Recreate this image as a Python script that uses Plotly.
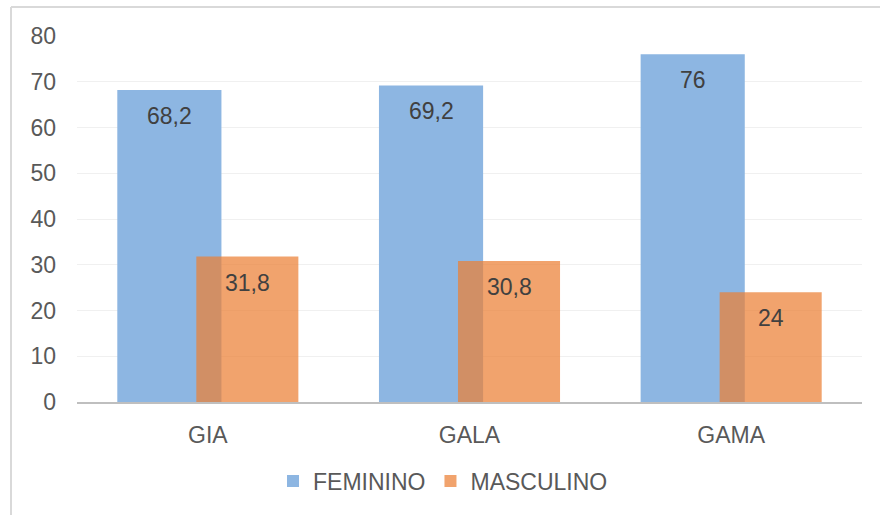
import plotly.graph_objects as go

# Chart data
categories = ["GIA", "GALA", "GAMA"]
feminino = [68.2, 69.2, 76]
masculino = [31.8, 30.8, 24]
y_ticks = [0, 10, 20, 30, 40, 50, 60, 70, 80]

BLUE = "#8db6e2"
ORANGE = "rgba(236,128,52,0.72)"
FONT = "Liberation Sans, Arial, sans-serif"

# bar geometry in category units
FEM_W, FEM_OFF = 0.398, -0.346
MAS_W, MAS_OFF = 0.39, -0.044


def fmt(v):
    return f"{v:g}".replace(".", ",")


fig = go.Figure()
fig.add_trace(go.Bar(
    x=categories, y=feminino, name="FEMININO",
    width=FEM_W, offset=FEM_OFF,
    marker=dict(color=BLUE, line=dict(width=0)),
))
fig.add_trace(go.Bar(
    x=categories, y=masculino, name="MASCULINO",
    width=MAS_W, offset=MAS_OFF,
    marker=dict(color=ORANGE, line=dict(width=0)),
))

# Value labels just inside the top of each bar
for i, cat in enumerate(categories):
    for vals, w, off in ((feminino, FEM_W, FEM_OFF), (masculino, MAS_W, MAS_OFF)):
        fig.add_annotation(
            x=i + off + w / 2, y=vals[i], xref="x", yref="y",
            text=fmt(vals[i]), showarrow=False, yanchor="middle",
            yshift=-26,
            font=dict(family=FONT, size=23, color="#404040"),
        )

# Outer frame (top and left edges)
frame = dict(type="line", xref="paper", yref="paper",
             line=dict(color="#d9d9d9", width=2))
fig.add_shape(**frame, x0=-0.0841, x1=1.05, y0=1.0792, y1=1.0792)
fig.add_shape(**frame, x0=-0.0841, x1=-0.0841, y0=1.0792, y1=-0.32)

fig.update_layout(
    width=880, height=515,
    margin=dict(l=77, r=18, t=36, b=113),
    barmode="overlay",
    paper_bgcolor="white", plot_bgcolor="white",
    font=dict(family=FONT, size=23, color="#595959"),
    showlegend=True,
    legend=dict(orientation="h", x=0.2497, xanchor="left",
                y=-0.216, yanchor="middle",
                font=dict(family=FONT, size=23, color="#595959"),
                itemwidth=30),
)
fig.update_xaxes(
    showgrid=False, showline=True, linecolor="#bfbfbf", linewidth=1.5,
    ticks="", ticklabelstandoff=12,
    tickfont=dict(family=FONT, size=23, color="#595959"),
)
fig.update_yaxes(
    range=[0, 80], tickvals=y_ticks, showgrid=True, gridcolor="#f0f0f0",
    gridwidth=1, zeroline=False, showline=False, ticks="",
    ticklabelstandoff=20,
    tickfont=dict(family=FONT, size=23, color="#595959"),
)

fig.write_html("out.html")
